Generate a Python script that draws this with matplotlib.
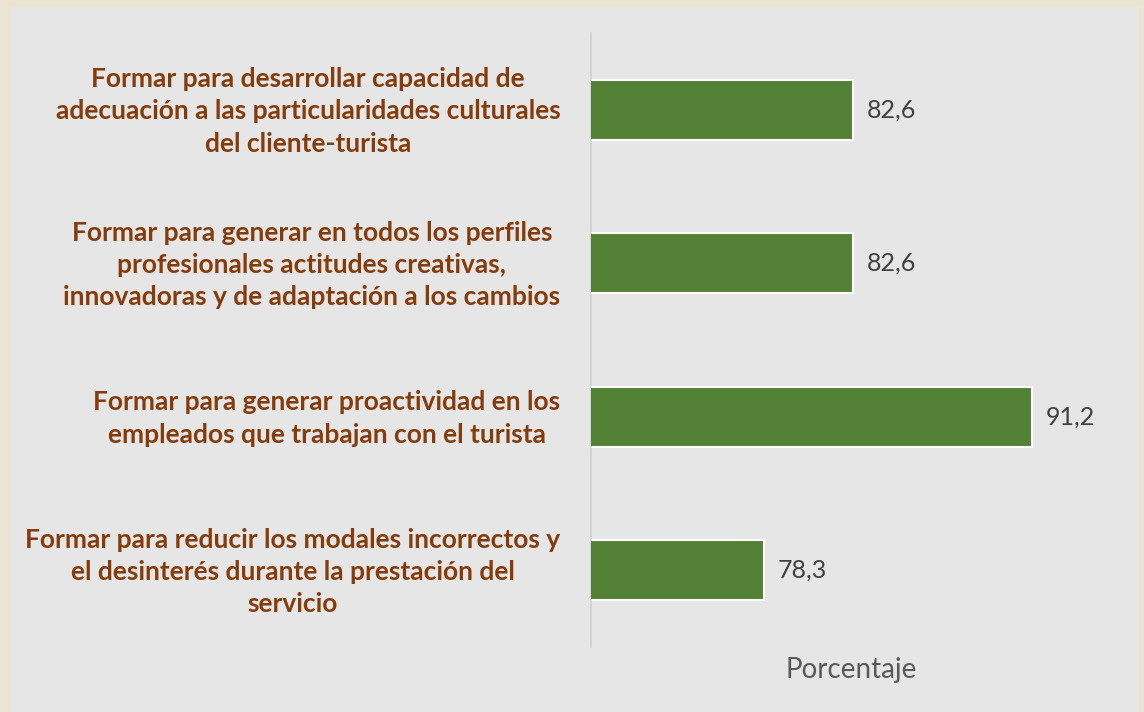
import matplotlib
matplotlib.use("Agg")
import matplotlib.pyplot as plt
from matplotlib.patches import Rectangle
from matplotlib.transforms import ScaledTranslation

categories = [
    "Formar para desarrollar capacidad de\nadecuación a las particularidades culturales\ndel cliente-turista",
    "Formar para generar en todos los perfiles\nprofesionales actitudes creativas,\ninnovadoras y de adaptación a los cambios",
    "Formar para generar proactividad en los\nempleados que trabajan con el turista",
    "Formar para reducir los modales incorrectos y\nel desinterés durante la prestación del\nservicio",
]
values = [82.6, 82.6, 91.2, 78.3]
value_labels = ["82,6", "82,6", "91,2", "78,3"]
x_title = "Porcentaje"

plt.rcParams['font.family'] = ['Lato', 'DejaVu Sans']

W, H = 1144, 712
fig = plt.figure(figsize=(W / 100, H / 100), dpi=100)
fig.patch.set_facecolor('#ebe4d3')
fig.patches.append(Rectangle((11 / W, 0), (1139 - 11) / W, (712 - 7) / H,
                             transform=fig.transFigure, facecolor='#e6e6e6',
                             edgecolor='none', zorder=-5))

ax = fig.add_axes([591 / W, 65 / H, 520 / W, 614 / H])
ax.set_facecolor('none')
ax.set_zorder(2)

y = list(range(len(categories)))
ax.barh(y, values, height=0.39, color='#538135', edgecolor='white', linewidth=1.5, zorder=3)
ax.set_xlim(70, 95)
ax.set_ylim(3.5, -0.5)

for yi, v, lab in zip(y, values, value_labels):
    ax.annotate(lab, (v, yi), xytext=(10, 0), textcoords='offset points',
                va='center', ha='left', fontsize=18, color='#404040', clip_on=False)

ax.set_yticks(y)
ax.set_yticklabels(categories, fontsize=19, fontweight='bold', color='#843c0c',
                   multialignment='center', linespacing=1.42)
ax.tick_params(axis='y', length=0, pad=22)
shift = ScaledTranslation(0, 4.5 / 100, fig.dpi_scale_trans)
for t in ax.get_yticklabels():
    t.set_transform(t.get_transform() + shift)
ax.set_xticks([])
for s in ['top', 'right', 'bottom']:
    ax.spines[s].set_visible(False)
ax.spines['left'].set_color('#d0d0d0')
ax.spines['left'].set_linewidth(1.2)

ax.set_xlabel(x_title, fontsize=20, color='#595959')
ax.xaxis.set_label_coords(0.5, -0.0375, transform=ax.transAxes)
ax.xaxis.label.set_va('center')

fig.savefig('out.png', dpi=100, facecolor=fig.get_facecolor())
